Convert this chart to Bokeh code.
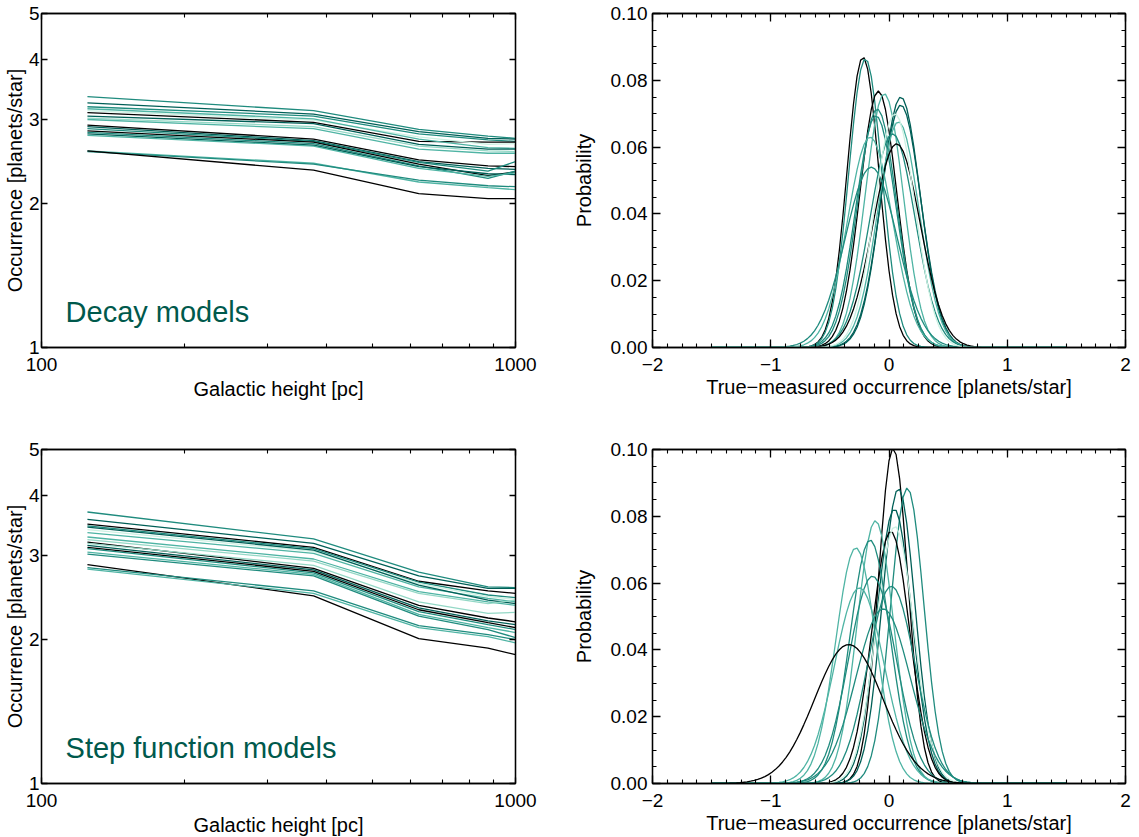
import numpy as np
from bokeh.plotting import figure
from bokeh.layouts import column, row
from bokeh.models import (LogAxis, LinearAxis, FixedTicker,
                          PrintfTickFormatter, Label)
from bokeh.embed import file_html
from bokeh.resources import INLINE

# ---------------- data ----------------
K = "#000000"   # black
D = "#005f57"   # dark teal
T = "#1f8b7e"   # teal
L = "#4fb4a4"   # light teal
M = "#94d8c6"   # mint
P = "#cdf1e3"   # pale mint

heights = [125, 375, 625, 875, 1000]   # galactic height [pc]

decay_occ = [
    [3.35, 3.13, 2.86, 2.77, 2.74],
    [3.25, 3.08, 2.83, 2.74, 2.73],
    [3.19, 3.05, 2.80, 2.72, 2.70],
    [3.10, 2.96, 2.70, 2.69, 2.69],
    [3.13, 2.99, 2.76, 2.66, 2.67],
    [3.16, 3.01, 2.73, 2.62, 2.61],
    [3.05, 2.94, 2.66, 2.60, 2.60],
    [3.02, 2.90, 2.64, 2.58, 2.57],
    [3.00, 2.87, 2.60, 2.55, 2.55],
    [2.92, 2.73, 2.47, 2.40, 2.39],
    [2.90, 2.71, 2.45, 2.37, 2.36],
    [2.87, 2.70, 2.44, 2.34, 2.45],
    [2.84, 2.69, 2.42, 2.29, 2.33],
    [2.82, 2.67, 2.40, 2.26, 2.34],
    [2.80, 2.65, 2.39, 2.31, 2.30],
    [2.78, 2.64, 2.37, 2.28, 2.32],
    [2.58, 2.43, 2.22, 2.16, 2.14],
    [2.57, 2.42, 2.24, 2.18, 2.17],
    [2.58, 2.35, 2.10, 2.05, 2.05],
]
decay_colors = [T, D, T, K, P, L, D, M, L, K, D, T, K, T, D, L, L, T, K]

step_occ = [
    [3.70, 3.25, 2.77, 2.58, 2.57],
    [3.57, 3.18, 2.72, 2.56, 2.56],
    [3.49, 3.12, 2.65, 2.53, 2.50],
    [3.46, 3.10, 2.64, 2.48, 2.45],
    [3.40, 3.06, 2.62, 2.46, 2.43],
    [3.35, 3.03, 2.58, 2.44, 2.40],
    [3.44, 3.08, 2.60, 2.42, 2.38],
    [3.28, 2.95, 2.52, 2.40, 2.36],
    [3.24, 2.92, 2.50, 2.38, 2.42],
    [3.20, 2.82, 2.36, 2.22, 2.18],
    [3.15, 2.80, 2.33, 2.19, 2.15],
    [3.12, 2.78, 2.31, 2.17, 2.12],
    [3.10, 2.76, 2.29, 2.15, 2.10],
    [3.05, 2.74, 2.26, 2.12, 2.07],
    [3.18, 2.86, 2.40, 2.27, 2.28],
    [3.02, 2.72, 2.24, 2.10, 2.02],
    [2.87, 2.47, 2.01, 1.92, 1.86],
    [2.83, 2.53, 2.14, 2.05, 2.00],
    [2.81, 2.50, 2.12, 2.03, 1.97],
]
step_colors = [T, D, K, T, P, L, D, L, M, K, D, K, T, L, M, T, K, T, L]

# Gaussian probability curves: centre, width, peak probability
decay_mean  = [-0.22, -0.20, -0.09, -0.04, -0.10, -0.11, 0.10, 0.10, 0.08, 0.03, 0.065, -0.16, -0.15, 0.05]
decay_sigma = [0.135, 0.140, 0.155, 0.160, 0.165, 0.170, 0.165, 0.170, 0.175, 0.190, 0.200, 0.190, 0.220, 0.170]
decay_peak  = [0.087, 0.0865, 0.0768, 0.076, 0.0714, 0.0694, 0.075, 0.0726, 0.0676, 0.064, 0.061, 0.063, 0.054, 0.070]
decay_pcol  = [K, T, K, L, T, T, D, D, L, T, K, L, T, P]

step_mean  = [0.035, 0.08, 0.155, 0.045, 0.015, 0.05, -0.115, -0.16, -0.28, -0.14, -0.25, 0.02, -0.05, -0.34]
step_sigma = [0.125, 0.140, 0.140, 0.150, 0.160, 0.160, 0.155, 0.170, 0.170, 0.200, 0.210, 0.200, 0.230, 0.290]
step_peak  = [0.1005, 0.0883, 0.0885, 0.0822, 0.0755, 0.077, 0.0787, 0.0729, 0.0706, 0.0621, 0.0586, 0.0591, 0.0523, 0.0416]
step_pcol  = [K, D, T, D, K, P, L, T, L, T, L, T, T, K]

diff_grid = np.linspace(-1.5, 1.5, 101)

FONT = "Liberation Sans"
TICK_FS = "19px"
TITLE_FS = "20px"
TXT = "#00594c"


def style_axis(ax, tick_in, minor_in):
    ax.major_tick_in = tick_in
    ax.major_tick_out = 0
    ax.minor_tick_in = minor_in
    ax.minor_tick_out = 0
    ax.axis_line_color = "black"
    ax.axis_line_width = 1.3
    ax.major_tick_line_color = "black"
    ax.major_tick_line_width = 1.3
    ax.minor_tick_line_color = "black"
    ax.minor_tick_line_width = 1.1
    ax.major_label_text_font = FONT
    ax.major_label_text_font_size = TICK_FS
    ax.major_label_text_color = "black"
    ax.axis_label_text_font = FONT
    ax.axis_label_text_font_size = TITLE_FS
    ax.axis_label_text_font_style = "normal"
    ax.axis_label_text_color = "black"


def hide_labels(ax):
    ax.major_label_text_font_size = "1px"
    ax.major_label_text_alpha = 0
    ax.major_label_standoff = 0


def left_panel(occ, colors, label, top_border, bottom_border):
    p = figure(frame_width=474, frame_height=334, x_axis_type="log", y_axis_type="log",
               x_range=(100, 1000), y_range=(1, 5), output_backend="svg",
               toolbar_location=None, min_border_left=36, min_border_right=53,
               min_border_top=top_border, min_border_bottom=bottom_border)
    p.grid.visible = False
    p.outline_line_color = "black"
    p.outline_line_width = 1.3
    for vals, c in zip(occ, colors):
        p.line(heights, vals, line_color=c, line_width=1.3)
    xminor = [200, 300, 400, 500, 600, 700, 800, 900]
    xa = p.xaxis[0]
    ya = p.yaxis[0]
    xa.ticker = FixedTicker(ticks=[100, 1000], minor_ticks=xminor)
    ya.ticker = FixedTicker(ticks=[1, 2, 3, 4, 5])
    xa.major_label_overrides = {100: "100", 1000: "1000"}
    ya.major_label_overrides = {1: "1", 2: "2", 3: "3", 4: "4", 5: "5"}
    style_axis(xa, 6, 4)
    style_axis(ya, 6, 4)
    xa.axis_label = "Galactic height [pc]"
    ya.axis_label = "Occurrence [planets/star]"
    xa.major_label_standoff = 10
    xa.axis_label_standoff = 4
    ya.major_label_standoff = 2
    ya.axis_label_standoff = 0
    xa2 = LogAxis(ticker=FixedTicker(ticks=[100, 1000], minor_ticks=xminor))
    ya2 = LogAxis(ticker=FixedTicker(ticks=[1, 2, 3, 4, 5]))
    for ax in (xa2, ya2):
        style_axis(ax, 6, 4)
        hide_labels(ax)
    p.add_layout(xa2, "above")
    p.add_layout(ya2, "right")
    lab = Label(x=112.4, y=1.187, text=label, text_font=FONT, text_font_size="29px",
                text_color=TXT, text_baseline="alphabetic", text_align="left")
    p.add_layout(lab)
    return p


def right_panel(means, sigmas, peaks, colors, top_border, bottom_border):
    p = figure(frame_width=473, frame_height=334, x_range=(-2, 2), y_range=(0, 0.1),
               output_backend="svg", toolbar_location=None,
               min_border_left=84, min_border_right=8,
               min_border_top=top_border, min_border_bottom=bottom_border)
    p.grid.visible = False
    p.outline_line_color = "black"
    p.outline_line_width = 1.3
    for mu, sg, pk, c in zip(means, sigmas, peaks, colors):
        prob = pk * np.exp(-0.5 * ((diff_grid - mu) / sg) ** 2)
        p.line(diff_grid, prob, line_color=c, line_width=1.3)
    xminor = [float(v) for v in np.arange(-2, 2.0001, 0.125)]
    yminor = [round(float(v), 4) for v in np.arange(0, 0.1001, 0.005)]
    xa = p.xaxis[0]
    ya = p.yaxis[0]
    xa.ticker = FixedTicker(ticks=[-2, -1, 0, 1, 2], minor_ticks=xminor)
    ya.ticker = FixedTicker(ticks=[0, 0.02, 0.04, 0.06, 0.08, 0.10], minor_ticks=yminor)
    xa.major_label_overrides = {-2: "\u22122", -1: "\u22121", 0: "0", 1: "1", 2: "2"}
    ya.formatter = PrintfTickFormatter(format="%.2f")
    style_axis(xa, 8, 4)
    style_axis(ya, 8, 4)
    xa.axis_label = "True\u2212measured occurrence [planets/star]"
    ya.axis_label = "Probability"
    xa.major_label_standoff = 10
    xa.axis_label_standoff = 2
    ya.major_label_standoff = 5
    ya.axis_label_standoff = 13
    xa2 = LinearAxis(ticker=FixedTicker(ticks=[-2, -1, 0, 1, 2], minor_ticks=xminor))
    ya2 = LinearAxis(ticker=FixedTicker(ticks=[0, 0.02, 0.04, 0.06, 0.08, 0.10], minor_ticks=yminor))
    for ax in (xa2, ya2):
        style_axis(ax, 8, 4)
        hide_labels(ax)
    p.add_layout(xa2, "above")
    p.add_layout(ya2, "right")
    return p


p1 = left_panel(decay_occ, decay_colors, "Decay models", 13, 62)
p2 = right_panel(decay_mean, decay_sigma, decay_peak, decay_pcol, 13, 62)
p3 = left_panel(step_occ, step_colors, "Step function models", 40, 38)
p4 = right_panel(step_mean, step_sigma, step_peak, step_pcol, 40, 38)

layout = column(row(p1, p2), row(p3, p4))
open("out.html", "w").write(file_html(layout, INLINE))
